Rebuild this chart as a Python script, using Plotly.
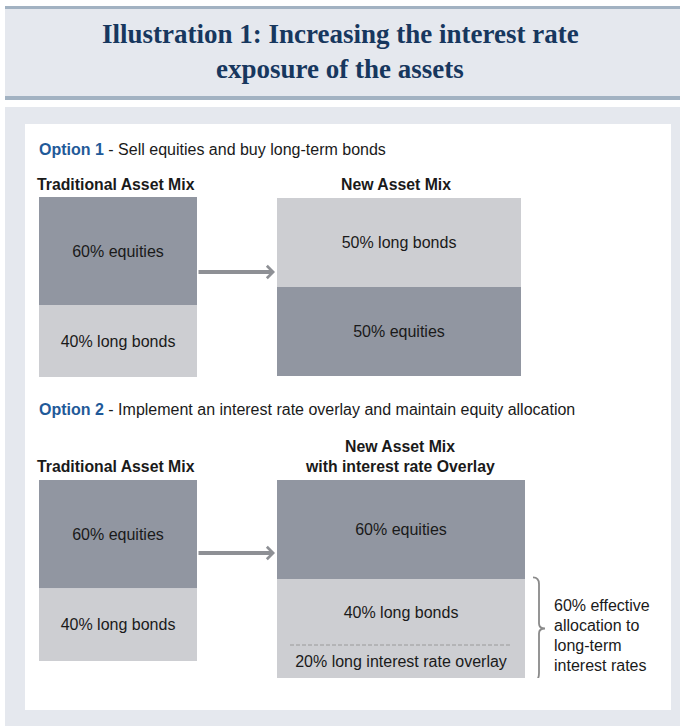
import plotly.graph_objects as go

W, H = 680, 726

# ---------------- data ----------------
title_lines = ["Illustration 1: Increasing the interest rate", "exposure of the assets"]

option1_label = "Option 1"
option1_text = "Sell equities and buy long-term bonds"
option2_label = "Option 2"
option2_text = "Implement an interest rate overlay and maintain equity allocation"

opt1_trad_title = "Traditional Asset Mix"
opt1_trad_labels = ["equities", "long bonds"]
opt1_trad_values = [60, 40]

opt1_new_title = "New Asset Mix"
opt1_new_labels = ["long bonds", "equities"]
opt1_new_values = [50, 50]

opt2_trad_title = "Traditional Asset Mix"
opt2_trad_labels = ["equities", "long bonds"]
opt2_trad_values = [60, 40]

opt2_new_title = ["New Asset Mix", "with interest rate Overlay"]
opt2_new_labels = ["equities", "long bonds", "long interest rate overlay"]
opt2_new_values = [60, 40, 20]

effective_allocation = 60
effective_text = ["effective", "allocation to", "long-term", "interest rates"]

# ---------------- styles ----------------
DARK = "#9196a1"
LIGHT = "#cdced2"
HEAD_BG = "#e5e8ee"
HEAD_LINE = "#a2b2c2"
NAVY = "#17375e"
BLUE = "#1f5a99"
TXT = "#1a1a1a"
ARROW = "#8e9095"
SANS = "Liberation Sans, Arial, sans-serif"
SERIF = "Liberation Serif, Times New Roman, serif"


def py(p):
    return 1 - p / H


# box geometry (pixels): x0, x1, y0, y1
boxes = [
    (opt1_trad_labels, opt1_trad_values, (39, 197, 197, 377)),
    (opt1_new_labels, opt1_new_values, (277, 521, 198, 376)),
    (opt2_trad_labels, opt2_trad_values, (39, 197, 480, 661)),
    (opt2_new_labels, opt2_new_values, (277, 525, 480, 678)),
]

fig = go.Figure()
layout_axes = {}
for i, (labels, values, (x0, x1, y0, y1)) in enumerate(boxes):
    yid = "y" if i == 0 else f"y{i + 1}"
    total = sum(values)
    base = 0
    for lab, v in zip(labels, values):
        fig.add_trace(go.Bar(
            x=[(x0 + x1) / 2], y=[v], base=[base], width=[x1 - x0],
            xaxis="x", yaxis=yid,
            marker=dict(color=DARK if lab == "equities" else LIGHT, line=dict(width=0)),
            text=[f"{v}% {lab}"], textposition="inside", insidetextanchor="middle",
            textangle=0, textfont=dict(family=SANS, size=16, color=TXT),
            hoverinfo="skip", showlegend=False,
        ))
        base += v
    key = "yaxis" if i == 0 else f"yaxis{i + 1}"
    layout_axes[key] = dict(domain=[py(y1), py(y0)], range=[total, 0], visible=False,
                            anchor="x", fixedrange=True)

# ---------------- background shapes ----------------
shapes = [
    dict(type="rect", xref="paper", yref="paper", x0=5 / W, x1=1, y0=py(9), y1=py(6),
         fillcolor=HEAD_LINE, line_width=0, layer="below"),
    dict(type="rect", xref="paper", yref="paper", x0=5 / W, x1=1, y0=py(96), y1=py(9),
         fillcolor=HEAD_BG, line_width=0, layer="below"),
    dict(type="rect", xref="paper", yref="paper", x0=5 / W, x1=1, y0=py(100), y1=py(96),
         fillcolor=HEAD_LINE, line_width=0, layer="below"),
    dict(type="rect", xref="paper", yref="paper", x0=5 / W, x1=1, y0=0, y1=py(107),
         fillcolor=HEAD_BG, line_width=0, layer="below"),
    dict(type="rect", xref="paper", yref="paper", x0=25 / W, x1=671 / W, y0=py(710), y1=py(124),
         fillcolor="white", line_width=0, layer="below"),
]

# dashed separator between long bonds and overlay (option 2 new mix)
sep = opt2_new_values[0] + opt2_new_values[1]
shapes.append(dict(type="line", xref="x", yref="y4", x0=290, x1=512, y0=sep, y1=sep,
                   line=dict(color="#9a9a9a", width=1, dash="4px,2px")))

# brace spanning the effective allocation (bonds + overlay)
top = opt2_new_values[0]
bot = sum(opt2_new_values)
mid = (top + bot) / 2
d = 3
bx0, bx1, bx2 = 533, 539, 545
path = (f"M {bx0},{top - 1} Q {bx1},{top - 1} {bx1},{top + d} L {bx1},{mid - d} "
        f"Q {bx1},{mid} {bx2},{mid} Q {bx1},{mid} {bx1},{mid + d} L {bx1},{bot - d} "
        f"Q {bx1},{bot + 2} {bx0},{bot + 2}")
shapes.append(dict(type="path", xref="x", yref="y4", path=path,
                   line=dict(color="#8a8a8a", width=1.8)))

# ---------------- annotations ----------------
ann = []
ann.append(dict(text=f"<b>{title_lines[0]}</b>", x=0.5, y=py(34), xref="paper", yref="paper",
                xanchor="center", yanchor="middle",
                showarrow=False, font=dict(family=SERIF, size=27, color=NAVY)))
ann.append(dict(text=f"<b>{title_lines[1]}</b>", x=0.5, y=py(69), xref="paper", yref="paper",
                xanchor="center", yanchor="middle",
                showarrow=False, font=dict(family=SERIF, size=27, color=NAVY)))


def txt(s, x, y, size=15, anchor="center", bold=False):
    if bold:
        s = f"<b>{s}</b>"
    ann.append(dict(text=s, x=x / W, y=py(y), xref="paper", yref="paper", showarrow=False,
                    xanchor=anchor, yanchor="middle",
                    font=dict(family=SANS, size=size, color=TXT)))


txt(f"<b><span style='color:{BLUE}'>{option1_label}</span></b> - {option1_text}", 37, 150, 16, "left")
txt(opt1_trad_title, 116, 184, 15.8, bold=True)
txt(opt1_new_title, 396, 184, 15.8, bold=True)
txt(f"<b><span style='color:{BLUE}'>{option2_label}</span></b> - {option2_text}", 37, 409, 16, "left")
txt(opt2_trad_title, 116, 466, 15.8, bold=True)
txt(opt2_new_title[0], 400, 447, 15.8, bold=True)
txt(opt2_new_title[1], 400, 466, 15.8, bold=True)

eff_lines = [f"{effective_allocation}% {effective_text[0]}"] + effective_text[1:]
for k, line in enumerate(eff_lines):
    txt(line, 552, 605 + 20 * k, 16, "left")

# arrows
for yy in (272, 553):
    ann.append(dict(x=275, y=py(yy), xref="x", yref="paper", ax=197, ay=0, axref="x",
                    ayref="pixel", showarrow=True, arrowhead=4, arrowsize=0.6,
                    arrowwidth=4, arrowcolor=ARROW, text=""))

fig.update_layout(
    width=W, height=H, autosize=False,
    margin=dict(l=0, r=0, t=0, b=0),
    paper_bgcolor="white", plot_bgcolor="rgba(0,0,0,0)",
    barmode="overlay", showlegend=False,
    xaxis=dict(range=[0, W], domain=[0, 1], visible=False, fixedrange=True),
    shapes=shapes, annotations=ann,
    **layout_axes,
)

fig.write_html("out.html", config={"displayModeBar": False},
               post_script="document.body.style.margin='0';document.body.style.overflow='hidden';")
